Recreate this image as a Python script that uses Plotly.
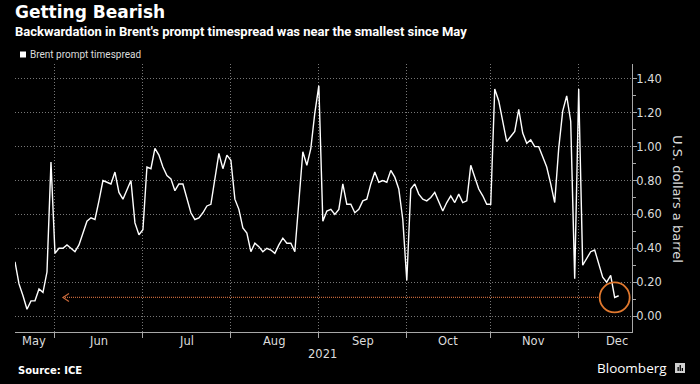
import pandas as pd
import plotly.graph_objects as go

# ---- data (Brent prompt timespread, USD/bbl, trading days from 2021-05-18) ----
start_date = "2021-05-18"
spread = [
    0.32, 0.19, 0.12, 0.04, 0.09, 0.09, 0.16, 0.14, 0.26, 0.91,
    0.37, 0.40, 0.40, 0.42, 0.40, 0.38, 0.42, 0.49, 0.56, 0.58,
    0.57, 0.68, 0.80, 0.79, 0.78, 0.85, 0.73, 0.69, 0.75, 0.80,
    0.55, 0.48, 0.51, 0.88, 0.87, 0.99, 0.95, 0.88, 0.83, 0.81,
    0.74, 0.78, 0.78, 0.69, 0.61, 0.57, 0.58, 0.61, 0.65, 0.66,
    0.80, 0.96, 0.87, 0.95, 0.92, 0.69, 0.63, 0.52, 0.49, 0.38,
    0.43, 0.41, 0.38, 0.40, 0.39, 0.37, 0.42, 0.46, 0.43, 0.43,
    0.38, 0.67, 0.97, 0.89, 0.99, 1.20, 1.36, 0.56, 0.62, 0.63,
    0.60, 0.63, 0.78, 0.66, 0.66, 0.61, 0.63, 0.68, 0.69, 0.78,
    0.85, 0.79, 0.80, 0.79, 0.86, 0.82, 0.75, 0.57, 0.21, 0.75,
    0.78, 0.72, 0.69, 0.68, 0.70, 0.73, 0.68, 0.62, 0.67, 0.71,
    0.67, 0.72, 0.67, 0.68, 0.89, 0.82, 0.75, 0.71, 0.66, 0.66,
    1.34, 1.27, 1.16, 1.03, 1.06, 1.09, 1.22, 1.08, 1.02, 1.04,
    1.00, 1.00, 0.94, 0.88, 0.78, 0.67, 0.99, 1.21, 1.30, 1.15,
    0.22, 1.34, 0.30, 0.34, 0.38, 0.39, 0.31, 0.23, 0.20, 0.24,
    0.11, 0.12,
]
dates = pd.bdate_range(start_date, periods=len(spread))

month_starts = ["2021-06-01", "2021-07-01", "2021-08-02", "2021-09-01",
                "2021-10-01", "2021-11-01", "2021-12-01"]
month_labels = ["May", "Jun", "Jul", "Aug", "Sep", "Oct", "Nov", "Dec"]
month_label_pos = ["2021-05-24 19:00", "2021-06-15 19:00", "2021-07-15 19:00",
                   "2021-08-16 19:00", "2021-09-16 00:00", "2021-10-15 07:00",
                   "2021-11-15 19:00", "2021-12-14 14:00"]
year_label = "2021"
year_label_pos = "2021-09-01 19:00"
y_ticks = [0.0, 0.2, 0.4, 0.6, 0.8, 1.0, 1.2, 1.4]

arrow_level = 0.11
arrow_start = "2021-06-03"
arrow_end = "2021-12-08 02:00"
circle_center = "2021-12-14"

x_range = ["2021-05-18", "2021-12-20 08:00"]
y_range = [-0.094, 1.488]

# ---- layout geometry (pixels) ----
W, H = 700, 384
L, R, T, B = 15, 68, 64, 52
PW, PH = W - L - R, H - T - B


def px_x(p):
    return (p - L) / PW


def px_y(p):
    return (H - B - p) / PH


ORANGE = "#e0782e"
ARROW = "#c8683a"
GRID = "#777777"
AXIS = "#a8a8a8"
TXT = "#dcdcdc"
FONT = "DejaVu Sans"
FINE_DOT = "1px,2px"

fig = go.Figure()
fig.add_trace(go.Scatter(
    x=dates, y=spread, mode="lines",
    line=dict(color="#ffffff", width=1.4),
    name="Brent prompt timespread", showlegend=False,
    hoverinfo="skip",
))

shapes = [
    # dotted arrow shaft
    dict(type="line", xref="x", yref="y", x0=arrow_start, x1=arrow_end,
         y0=arrow_level, y1=arrow_level,
         line=dict(color=ARROW, width=1.2, dash="1px,1px")),
    # arrow head (chevron)
    dict(type="path", xref="x", yref="y", xsizemode="pixel", ysizemode="pixel",
         xanchor=arrow_start, yanchor=arrow_level,
         path="M 6 4 L 0 0 L 6 -4",
         line=dict(color=ARROW, width=1.2)),
    # circle around latest value
    dict(type="circle", xref="x", yref="y", xsizemode="pixel", ysizemode="pixel",
         xanchor=circle_center, yanchor=arrow_level,
         x0=-15, x1=15, y0=-15, y1=15,
         line=dict(color=ORANGE, width=1.8)),
    # legend square
    dict(type="rect", xref="paper", yref="paper",
         x0=px_x(20), x1=px_x(26), y0=px_y(57.5), y1=px_y(51.5),
         fillcolor="#ffffff", line=dict(width=0)),
    # Bloomberg logo
    dict(type="rect", xref="paper", yref="paper",
         x0=px_x(675), x1=px_x(685), y0=px_y(373), y1=px_y(363),
         fillcolor="#d0d0d0", line=dict(width=0)),
    dict(type="rect", xref="paper", yref="paper",
         x0=px_x(677.5), x1=px_x(678.8), y0=px_y(371), y1=px_y(367),
         fillcolor="#000000", line=dict(width=0)),
    dict(type="rect", xref="paper", yref="paper",
         x0=px_x(679.6), x1=px_x(680.9), y0=px_y(371), y1=px_y(365),
         fillcolor="#000000", line=dict(width=0)),
    dict(type="rect", xref="paper", yref="paper",
         x0=px_x(681.7), x1=px_x(683), y0=px_y(371), y1=px_y(368),
         fillcolor="#000000", line=dict(width=0)),
]

annotations = [
    dict(text="<b>Getting Bearish</b>", x=px_x(13), y=px_y(11.5),
         font=dict(size=17, color="#ffffff", family=FONT)),
    dict(text="<b>Backwardation in Brent's prompt timespread was near the smallest since May</b>",
         x=px_x(13), y=px_y(31.5),
         font=dict(size=13, color="#ffffff", family="Roboto")),
    dict(text="Brent prompt timespread", x=px_x(28), y=px_y(54.5),
         font=dict(size=10, color=TXT, family="Roboto")),
    dict(text="<b>Source: ICE</b>", x=px_x(16), y=px_y(370),
         font=dict(size=10, color="#ffffff", family=FONT)),
    dict(text="Bloomberg", x=px_x(669), y=px_y(367.5), xanchor="right",
         font=dict(size=13.5, color="#ffffff", family="Open Sans")),
    dict(text="U.S. dollars a barrel", x=px_x(678), y=px_y(199), textangle=90,
         xanchor="center", font=dict(size=13, color=TXT, family=FONT)),
]
for a in annotations:
    a.setdefault("xref", "paper")
    a.setdefault("yref", "paper")
    a.setdefault("xanchor", "left")
    a.setdefault("yanchor", "middle")
    a["showarrow"] = False

for lab, pos in zip(month_labels, month_label_pos):
    annotations.append(dict(text=lab, x=pos, xref="x", y=px_y(341), yref="paper",
                            xanchor="center", yanchor="middle", showarrow=False,
                            font=dict(size=11.5, color=TXT, family=FONT)))
annotations.append(dict(text=year_label, x=year_label_pos, xref="x", y=px_y(354),
                        yref="paper", xanchor="center", yanchor="middle",
                        showarrow=False, font=dict(size=11.5, color=TXT, family=FONT)))

fig.update_layout(
    width=W, height=H,
    margin=dict(l=L, r=R, t=T, b=B),
    paper_bgcolor="#000000", plot_bgcolor="#000000",
    showlegend=False,
    shapes=shapes, annotations=annotations,
    xaxis=dict(
        type="date", range=x_range,
        rangebreaks=[dict(bounds=["sat", "mon"])],
        tickvals=month_starts, showticklabels=False,
        ticks="outside", ticklen=5, tickcolor=AXIS,
        showgrid=True, gridcolor=GRID, griddash=FINE_DOT, gridwidth=1,
        showline=True, linecolor=AXIS, linewidth=1,
        zeroline=False,
    ),
    yaxis=dict(
        side="right", range=y_range, tickvals=y_ticks, tickformat=".2f",
        ticks="outside", ticklen=4, tickcolor=AXIS,
        ticklabelstandoff=-3,
        minor=dict(dtick=0.1, tick0=0, ticks="outside", ticklen=3,
                   tickcolor=AXIS, showgrid=False),
        tickfont=dict(size=11.5, color=TXT, family=FONT),
        showgrid=True, gridcolor=GRID, griddash=FINE_DOT, gridwidth=1,
        showline=True, linecolor=AXIS, linewidth=1,
        zeroline=False,
    ),
)

fig.write_html(
    "out.html",
    config={"displayModeBar": False, "staticPlot": True},
    post_script="document.body.style.margin='0';document.body.style.overflow='hidden';",
)
